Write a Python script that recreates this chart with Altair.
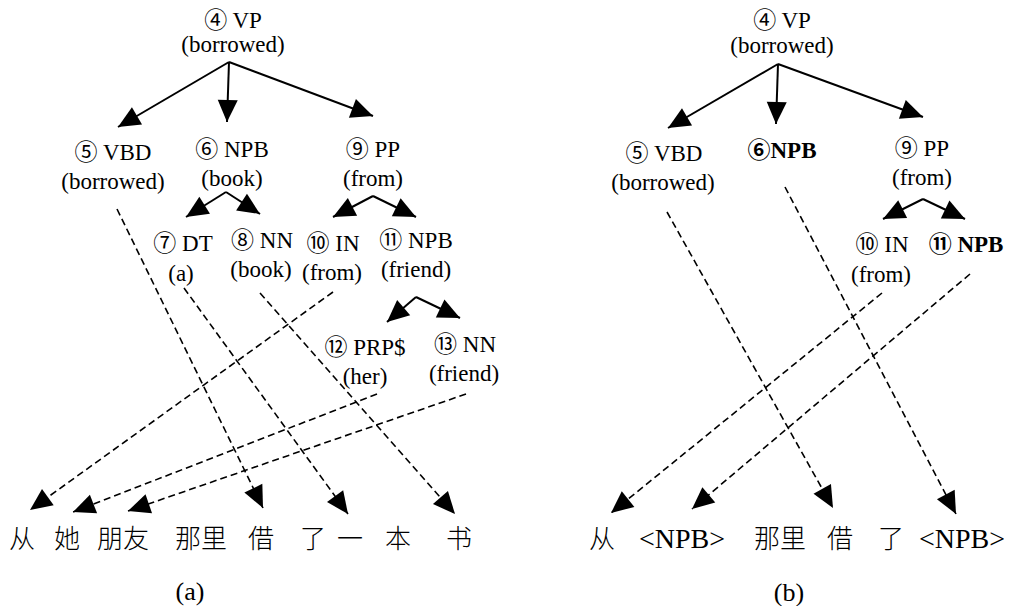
import altair as alt
import pandas as pd
import numpy as np

FONT = "Liberation Serif, Noto Sans CJK SC"

# ---- tree node labels (one entry per text line) ----
label_text = [
    "④ VP", "(borrowed)", "⑤ VBD", "(borrowed)", "⑥ NPB", "(book)", "⑨ PP", "(from)",
    "⑦ DT", "(a)", "⑧ NN", "(book)", "⑩ IN", "(from)", "⑪ NPB", "(friend)",
    "⑫ PRP$", "(her)", "⑬ NN", "(friend)",
    "④ VP", "(borrowed)", "⑤ VBD", "(borrowed)", "⑥NPB", "⑨ PP", "(from)",
    "⑩ IN", "(from)", "⑪ NPB",
]
label_x = [233, 233, 113, 113, 232, 232, 373, 373,
           183, 181, 262, 261, 333, 332, 416, 416,
           365, 365, 465, 464,
           782, 782, 664, 663, 782, 922, 922,
           882, 881, 966]
label_y = [21, 45, 153, 182, 150, 179, 150, 179,
           244, 274, 241, 270, 244, 273, 241, 270,
           348, 377, 345, 374,
           21, 46, 154, 183, 151, 149, 178,
           245, 275, 245]
label_bold = [False] * 20 + [False] * 4 + [True] + [False] * 4 + [True]

# ---- target-language words ----
word_text = ["从", "她", "朋友", "那里", "借", "了", "一", "本", "书",
             "从", "<NPB>", "那里", "借", "了", "<NPB>"]
word_x = [22, 67, 123, 201, 261, 313, 350, 398, 459,
          602, 682, 780, 840, 891, 962]
word_y = [540] * 15
word_cjk = [True] * 9 + [True, False, True, True, True, False]

caption_text = ["(a)", "(b)"]
caption_x = [190, 789]
caption_y = [592, 593]

# ---- tree edges (solid arrows) ----
edge_x1 = [229, 229, 229, 226, 226, 373, 373, 416, 416, 778, 778, 778, 923, 923]
edge_y1 = [62, 62, 62, 192, 192, 196, 196, 297, 297, 64, 64, 64, 199, 199]
edge_x2 = [118, 227, 373, 186, 260, 333, 416, 387, 460, 668, 776, 923, 883, 965]
edge_y2 = [127, 122, 116, 217, 214, 217, 217, 322, 318, 128, 124, 117, 219, 219]

# ---- alignment links (dashed arrows) ----
map_x1 = [117, 184, 260, 333, 377, 466, 667, 785, 882, 970]
map_y1 = [209, 288, 293, 292, 394, 394, 212, 187, 293, 274]
map_x2 = [263, 348, 455, 30, 73, 128, 833, 956, 611, 692]
map_y2 = [508, 514, 514, 510, 512, 511, 508, 514, 513, 509]

labels = pd.DataFrame({"t": label_text, "x": label_x, "y": label_y, "bold": label_bold})
words = pd.DataFrame({"t": word_text, "x": word_x, "y": word_y, "cjk": word_cjk})
caps = pd.DataFrame({"t": caption_text, "x": caption_x, "y": caption_y})
edges = pd.DataFrame({"x": edge_x1, "y": edge_y1, "x2": edge_x2, "y2": edge_y2})
maps = pd.DataFrame({"x": map_x1, "y": map_y1, "x2": map_x2, "y2": map_y2})

heads = pd.concat([edges, maps], ignore_index=True)
heads["ang"] = (np.degrees(np.arctan2(heads["x2"] - heads["x"], -(heads["y2"] - heads["y"]))) + 360) % 360

xs = alt.Scale(domain=[8, 1004], nice=False, zero=False)
ys = alt.Scale(domain=[8, 606], nice=False, zero=False, reverse=True)

def X(f):
    return alt.X(f, type="quantitative", scale=xs, axis=None)

def Y(f):
    return alt.Y(f, type="quantitative", scale=ys, axis=None)

solid = alt.Chart(edges).mark_rule(color="black", strokeWidth=2).encode(
    x=X("x"), y=Y("y"), x2="x2", y2="y2")
dashed = alt.Chart(maps).mark_rule(color="black", strokeWidth=1.6, strokeDash=[7, 4]).encode(
    x=X("x"), y=Y("y"), x2="x2", y2="y2")
arrow = alt.Chart(heads).mark_point(
    shape="M0,0L1,2.2L-1,2.2Z", filled=True, color="black", opacity=1, size=400, strokeWidth=0
).encode(x=X("x2"), y=Y("y2"), angle=alt.Angle("ang:Q", scale=None))

txt_norm = alt.Chart(labels).transform_filter("!datum.bold").mark_text(
    font=FONT, fontSize=23, color="black", baseline="middle", align="center"
).encode(x=X("x"), y=Y("y"), text="t:N")
txt_bold = alt.Chart(labels).transform_filter("datum.bold").mark_text(
    font=FONT, fontSize=23, fontWeight="bold", color="black", baseline="middle", align="center"
).encode(x=X("x"), y=Y("y"), text="t:N")
txt_cjk = alt.Chart(words).transform_filter("datum.cjk").mark_text(
    font="Noto Sans CJK SC", fontSize=26, fontWeight=300, color="black", baseline="middle", align="center"
).encode(x=X("x"), y=Y("y"), text="t:N")
txt_lat = alt.Chart(words).transform_filter("!datum.cjk").mark_text(
    font=FONT, fontSize=28, color="black", baseline="middle", align="center"
).encode(x=X("x"), y=Y("y"), text="t:N")
txt_caps = alt.Chart(caps).mark_text(
    font=FONT, fontSize=26, color="black", baseline="middle", align="center"
).encode(x=X("x"), y=Y("y"), text="t:N")

chart = alt.layer(solid, dashed, arrow, txt_norm, txt_bold, txt_cjk, txt_lat, txt_caps).properties(
    width=996, height=598, autosize="none", padding=0, background="white"
).configure_view(stroke=None)

chart.save("out.html", embed_options={"renderer": "svg", "actions": False})
